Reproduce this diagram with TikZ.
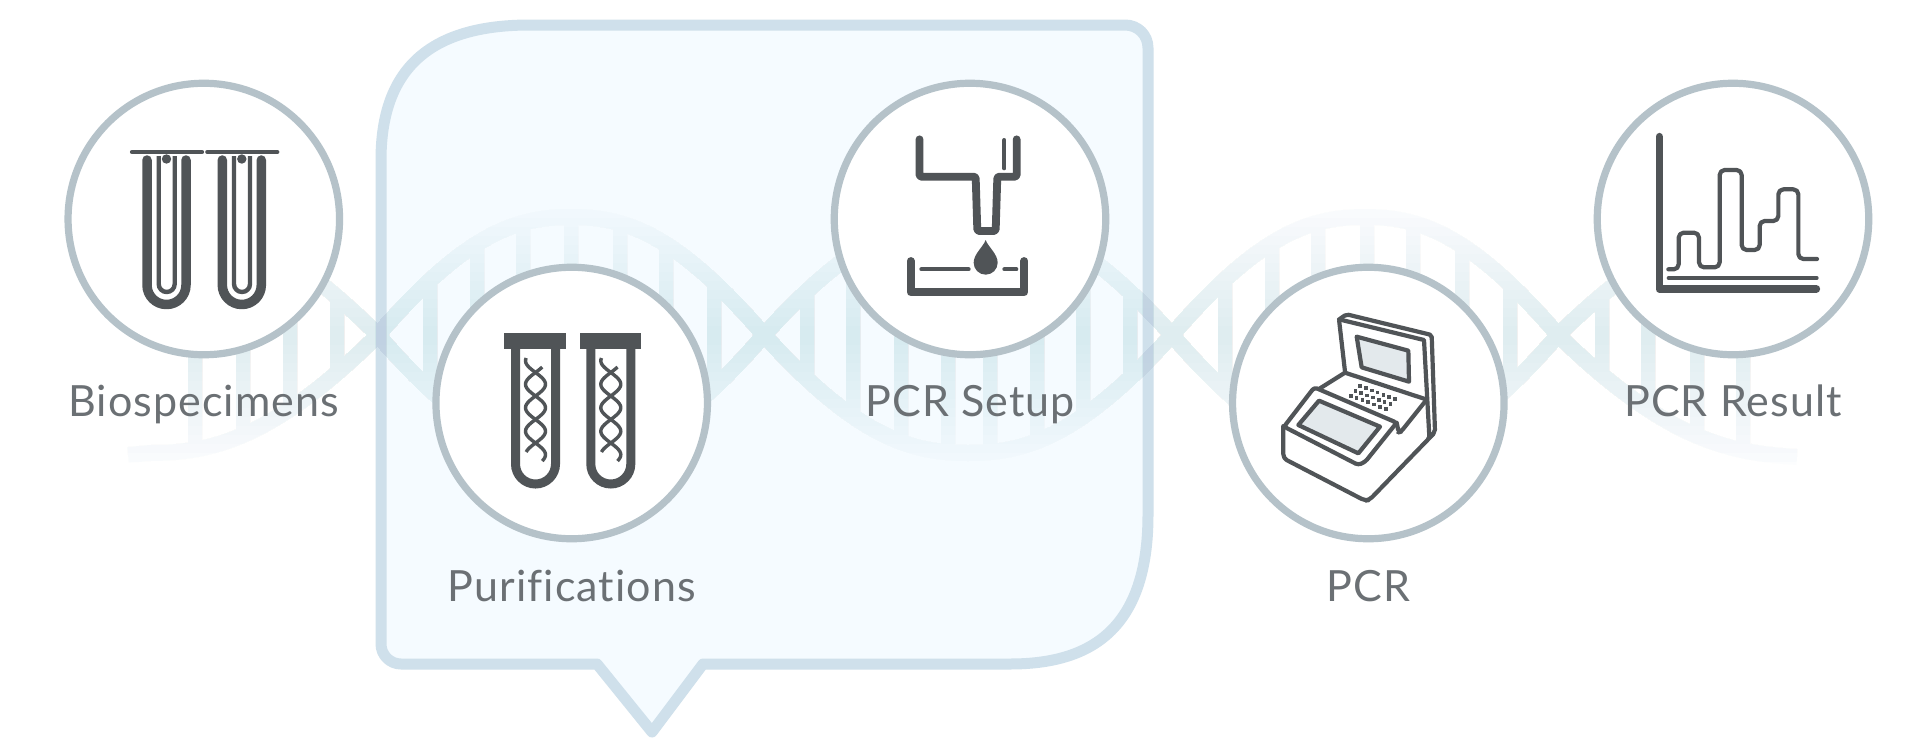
\documentclass[tikz,border=0pt]{standalone}
\usepackage{fontspec}
\setmainfont{Lato}[Ligatures=NoCommon,LetterSpace=2.5]
\definecolor{ink}{HTML}{505457}
\definecolor{labelgrey}{HTML}{6B7074}
\definecolor{ringgrey}{HTML}{B5C2C9}
\definecolor{calloutfill}{HTML}{F5FBFF}
\definecolor{calloutline}{HTML}{CFE0EB}
\definecolor{dnablue}{HTML}{A6D0E2}
\definecolor{screengrey}{HTML}{E3E9EC}
\tikzset{
  stagering/.style={circle,draw=ringgrey,fill=white,line width=7.2pt,minimum size=271.5pt,inner sep=0pt,outer sep=0pt},
  stagelabel/.style={anchor=base,text=labelgrey,font=\fontsize{43}{43}\selectfont,inner sep=0pt},
  zoomed/.style={x=0.33333pt,y=-0.33333pt},
  inkline/.style={draw=ink,line cap=round,line join=round},
  dnastrand/.style={draw=dnablue,line width=16pt},
}
\newcommand{\dnashape}{%
  \begin{scope}
    \clip (150,217) .. controls (209,217) and (271,229) .. (378,335) .. controls (469,229) and (521,217) .. (571,217) .. controls (621,217) and (673,229) .. (764,335) .. controls (860,229) and (915,217) .. (968,217) .. controls (1021,217) and (1076,229) .. (1172,335) .. controls (1263,229) and (1315,217) .. (1365,217) .. controls (1415,217) and (1467,229) .. (1558,335) .. controls (1667,229) and (1730,217) .. (1790,217)
      -- (1790,453) .. controls (1730,453) and (1667,441) .. (1558,335) .. controls (1467,441) and (1415,453) .. (1365,453) .. controls (1315,453) and (1263,441) .. (1172,335) .. controls (1076,441) and (1021,453) .. (968,453) .. controls (915,453) and (860,441) .. (764,335) .. controls (673,441) and (621,453) .. (571,453) .. controls (521,453) and (469,441) .. (378,335) .. controls (271,441) and (209,453) .. (150,453) -- cycle;
    \foreach \rx in {195,243,290,337,430,477,523,571,620,666,714,807,853,901,948,990,1037,1083,1130,1225,1272,1318,1367,1413,1462,1510,1602,1648,1697,1743}
      \draw[draw=dnablue,line width=14pt] (\rx,200) -- (\rx,470);
  \end{scope}
  \draw[dnastrand] (128,455) -- (150,453) .. controls (209,453) and (271,441) .. (378,335) .. controls (469,229) and (521,217) .. (571,217) .. controls (621,217) and (673,229) .. (764,335) .. controls (860,441) and (915,453) .. (968,453) .. controls (1021,453) and (1076,441) .. (1172,335) .. controls (1263,229) and (1315,217) .. (1365,217) .. controls (1415,217) and (1467,229) .. (1558,335) .. controls (1667,441) and (1730,453) .. (1797,457);
  \draw[dnastrand] (150,217) .. controls (209,217) and (271,229) .. (378,335) .. controls (469,441) and (521,453) .. (571,453) .. controls (621,453) and (673,441) .. (764,335) .. controls (860,229) and (915,217) .. (968,217) .. controls (1021,217) and (1076,229) .. (1172,335) .. controls (1263,441) and (1315,453) .. (1365,453) .. controls (1415,453) and (1467,441) .. (1558,335) .. controls (1667,229) and (1730,217) .. (1790,217);
}
\begin{document}
\begin{tikzpicture}[x=1pt,y=-1pt]
\path[use as bounding box,fill=white] (0,0) rectangle (1920,750);
% callout
\draw[fill=calloutfill,draw=calloutline,line width=11pt,line join=round]
  (381,160) .. controls (381,60) and (440,25) .. (530,25) -- (1125,25)
  .. controls (1138,25) and (1148,35) .. (1148,48) -- (1148,515)
  .. controls (1148,630) and (1090,664) .. (1010,664) -- (703,664) -- (652,732) -- (597,664) -- (401,664)
  .. controls (390,664) and (381,655) .. (381,644) -- cycle;
% DNA, faded towards top and bottom by nested low-opacity bands
\foreach \hh in {9,18,...,135}{
  \begin{scope}[transparency group,opacity=0.024]
    \clip (100,335-\hh) rectangle (1830,335+\hh);
    \dnashape
  \end{scope}
}
% rings
\node[stagering] (bio) at (203.8,219) {};
\node[stagering] (puri) at (571.7,403) {};
\node[stagering] (setup) at (970,219) {};
\node[stagering] (pcr) at (1368.3,403) {};
\node[stagering] (result) at (1733,219) {};
% labels
\node[stagelabel] (biolabel) at (203.8,416) {Biospecimens};
\node[stagelabel] (purilabel) at (571.7,601) {Purifications};
\node[stagelabel] (setuplabel) at (970,416) {PCR Setup};
\node[stagelabel] (pcrlabel) at (1368.3,601) {PCR};
\node[stagelabel] (resultlabel) at (1733,416) {PCR Result};
% icon 1: sample tubes
\foreach \dx in {0,75.3}{
  \begin{scope}[shift={(\dx,0)}]
    \draw[inkline,line width=4.2pt] (132,152) -- (202,152);
    \draw[inkline,line width=9.5pt] (147,160) -- (147,285) arc[start angle=180,end angle=0,radius=19.5] -- (186,160);
    \draw[draw=ink,line width=4.4pt] (158.7,156) -- (158.7,284) arc[start angle=180,end angle=0,radius=8.0] -- (174.7,156);
    \fill[ink] (166.5,159) circle[radius=4.7];
  \end{scope}
}
% icon 2: purification tubes
\foreach \dx in {0,75.3}{
  \begin{scope}[shift={(\dx,0)}]
    \fill[ink] (504.3,333.3) rectangle (566,348.7);
    \draw[draw=ink,line width=9pt] (515.5,345) -- (515.5,464) arc[start angle=180,end angle=0,radius=20] -- (555.5,345);
    \draw[ink,line width=3.4pt,domain=358:452,samples=60,smooth,variable=\t] plot ({535.5+10*sin(180*(\t-372.5)/23.5)},{\t});
    \draw[ink,line width=3.4pt,domain=367:461,samples=60,smooth,variable=\t] plot ({535.5-10*sin(180*(\t-372.5)/23.5)},{\t});
  \end{scope}
}
% icon 3: pipette
\begin{scope}[shift={(820,70)},zoomed]
  \draw[inkline,line width=7.8pt,rounded corners=1.5pt] (298.5,208) -- (298.5,320) -- (467,320) -- (472,483) -- (527,483) -- (532,320) -- (590,320) -- (590,208);
  \draw[inkline,line width=4pt] (553,210) -- (553,295);
  \fill[ink] (497,510) .. controls (490,530) and (461,552) .. (461,578) arc[start angle=180,end angle=0,radius=36] .. controls (533,552) and (504,530) .. (497,510) -- cycle;
  \draw[inkline,line width=7.8pt] (272,573) -- (272,667) -- (613,667) -- (613,573);
  \draw[inkline,line width=4pt] (304,598) -- (446,598);
  \draw[inkline,line width=4pt] (553,598) -- (589,598);
\end{scope}
% icon 4: PCR machine
\begin{scope}[shift={(1220,280)},zoomed]
  \begin{scope}[inkline,line width=4.2pt]
    \draw[rounded corners=2pt] (375,275) -- (357,118) -- (380,103) -- (635,165) -- (645,455) -- (625,475);
    \draw (357,118) -- (612,180) -- (628,470);
    \draw[fill=screengrey] (410,170) -- (565,212) -- (567,305) -- (425,262) -- cycle;
    \draw (300,325) -- (375,278) -- (618,358);
    \draw[rounded corners=3pt] (530,428) -- (536,457) -- (543,455) -- (615,365);
    \draw[rounded corners=4pt] (190,438) -- (190,535) -- (435,662) -- (448,660) -- (640,462);
    \draw[rounded corners=3pt] (283,322) -- (530,428) -- (436,545) -- (415,555) -- (192,440) -- cycle;
    \draw[fill=screengrey] (297,362) -- (480,440) -- (415,520) -- (235,435) -- cycle;
  \end{scope}
  \foreach \r/\sx/\sy in {0/420/318,1/406/333,2/392/347}{
    \foreach \k in {0,...,6}{
      \fill[ink,shift={({\sx+\k*17.5},{\sy+\k*6.6})}] (-5.5,-5.5) rectangle (5.5,5.5);
    }
  }
\end{scope}
% icon 5: chart
\begin{scope}[shift={(1590,70)},zoomed]
  \draw[inkline,line width=7.6pt] (208,200) -- (208,657) -- (679,657);
  \draw[inkline,line width=4pt] (236,624) -- (680,624);
  \draw[inkline,line width=4.2pt,rounded corners=5pt] (235,598) -- (266,598) -- (266,488) -- (327,488) -- (327,592) -- (389,592) -- (389,300) -- (455,300) -- (455,540) -- (509,540) -- (509,453) -- (565,453) -- (565,358) -- (625,358) -- (625,567) -- (681,567);
\end{scope}
\end{tikzpicture}
\end{document}
